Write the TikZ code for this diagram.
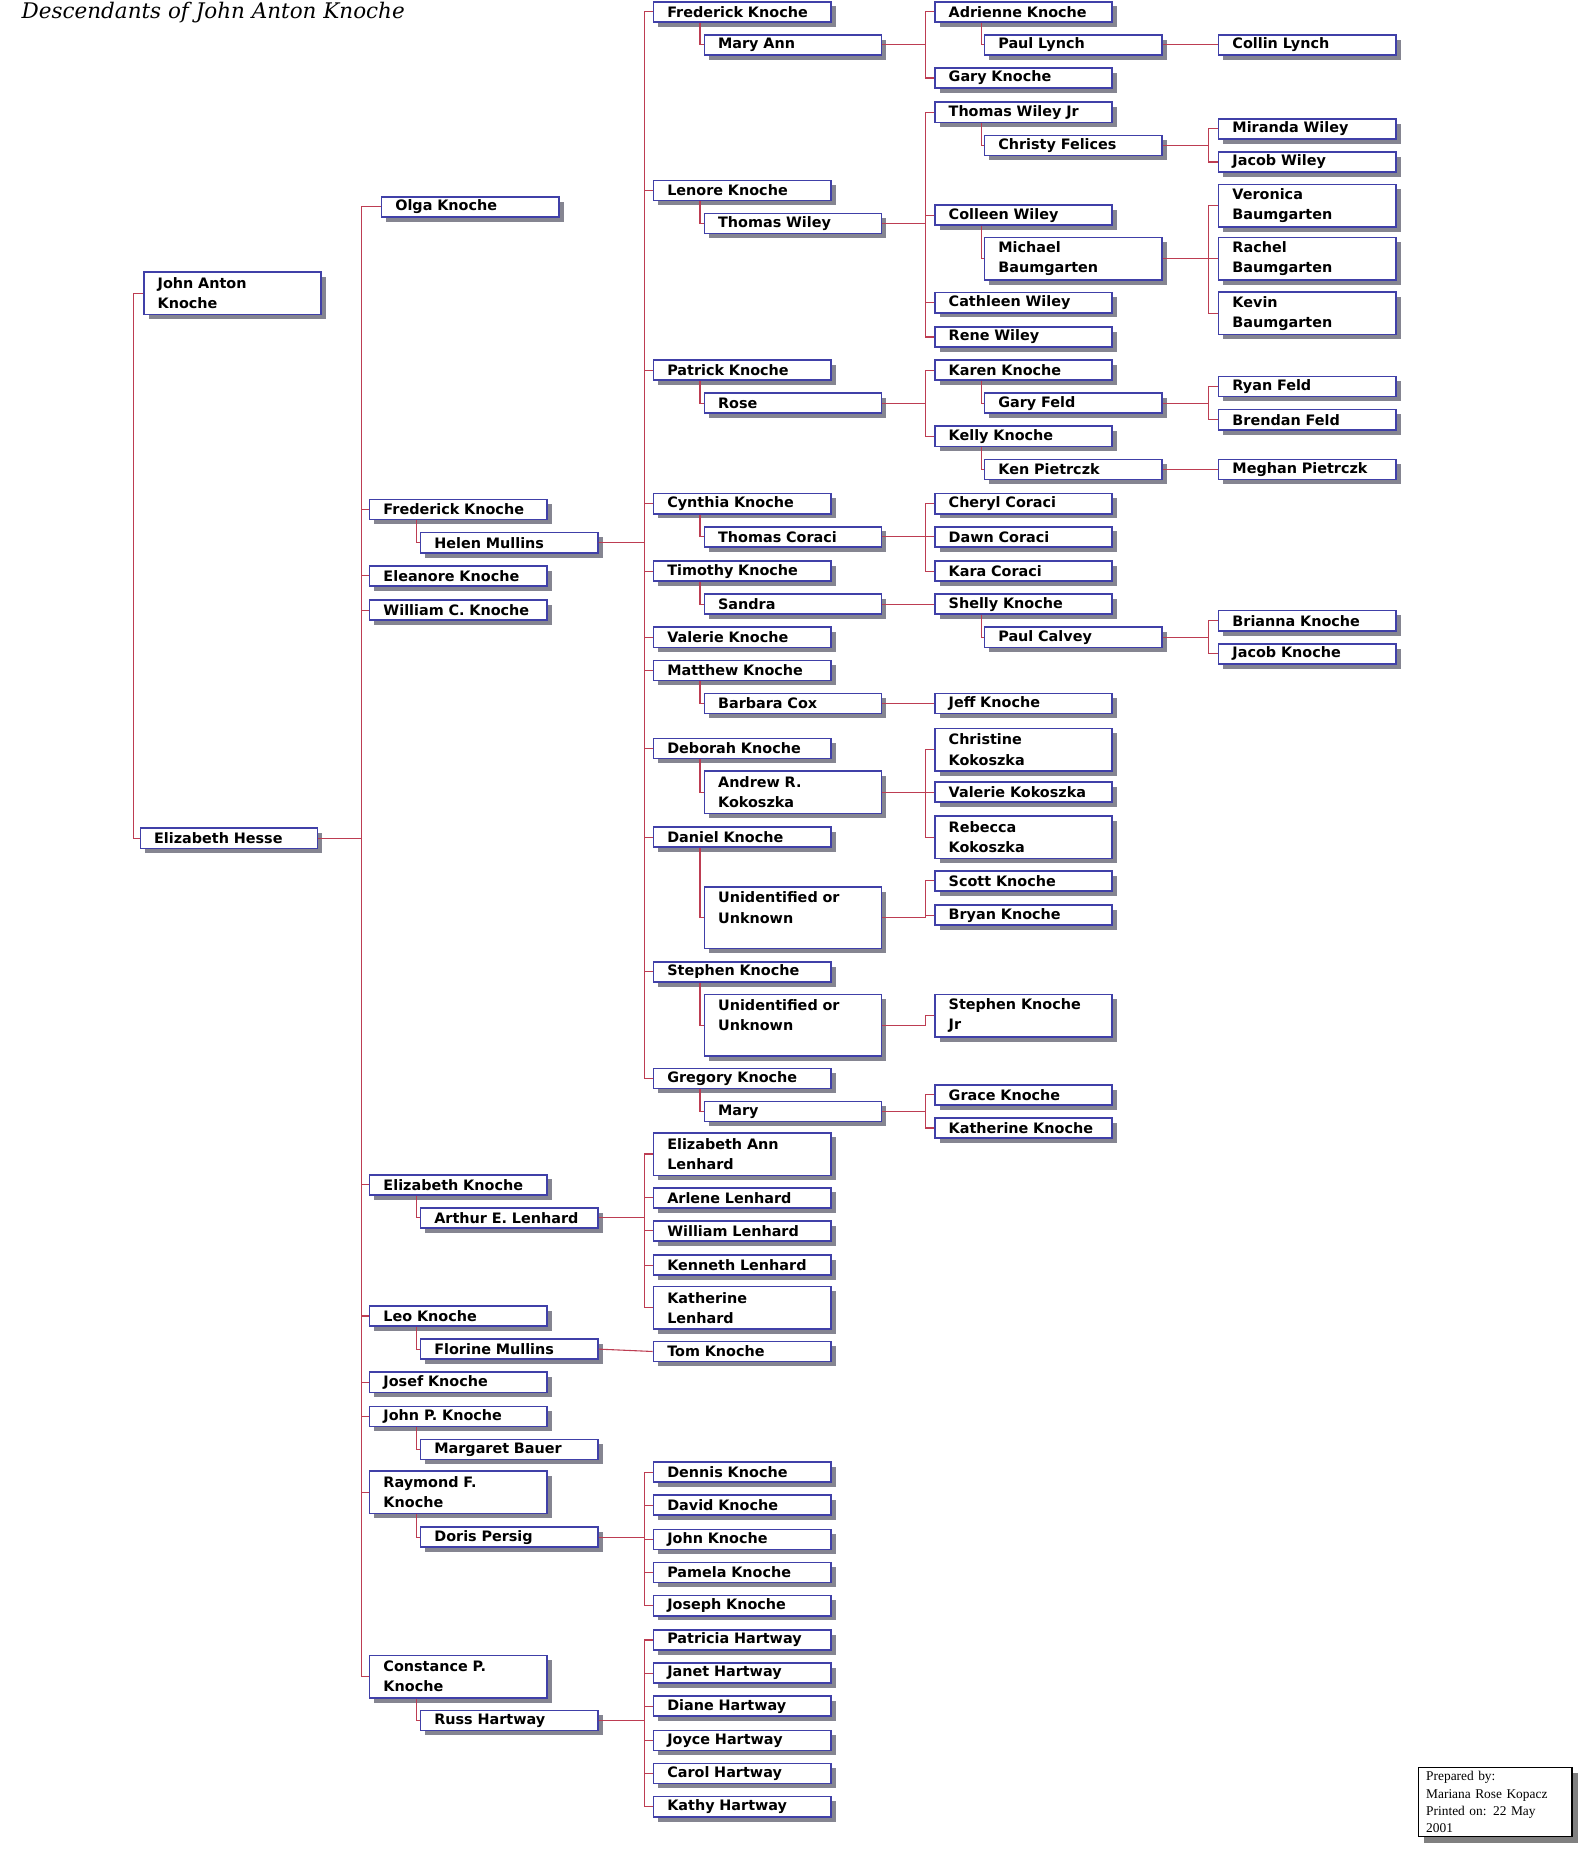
\documentclass[tikz,border=0pt]{standalone}
\usepackage{fontspec}
\usetikzlibrary{shadows}
\newfontfamily\boxfont{DejaVu Sans}
\newfontfamily\titlefont{DejaVu Serif}
\newfontfamily\notefont{Liberation Serif}
\definecolor{boxlinecolor}{rgb}{0.25,0.25,0.66}
\definecolor{famlinecolor}{rgb}{0.74,0.24,0.32}
\definecolor{shadowcolor}{rgb}{0.52,0.52,0.57}
\tikzset{
  pbox/.style={draw=boxlinecolor, line width=0.8pt, fill=white, anchor=west,
    drop shadow={shadow xshift=2.4pt, shadow yshift=-2.4pt, fill=shadowcolor, opacity=1},
    text width=76pt, inner xsep=7pt, inner ysep=0pt, minimum height=10.2pt, align=left,
    font=\boxfont\bfseries\fontsize{7.3}{10.2}\selectfont},
  pboxtwo/.style={pbox, minimum height=21.6pt},
  pboxthree/.style={pbox, minimum height=31.2pt},
  famline/.style={draw=famlinecolor, line width=0.55pt},
}
\begin{document}
\begin{tikzpicture}[x=0.6pt,y=-0.6pt]
\useasboundingbox (0,0) rectangle (1346,1568);
% title
\node[anchor=base west, inner sep=0pt, font=\titlefont\itshape\fontsize{10.9}{12}\selectfont] (title) at (18,16) {Descendants of John Anton Knoche};
% generation 1
\node[pboxtwo] (johnA) at (121,248) {John Anton\\Knoche};
\node[pbox] (elizH) at (118,709) {Elizabeth Hesse};
% generation 2
\node[pbox] (olga) at (322,175) {Olga Knoche};
\node[pbox] (fred) at (312,431) {Frederick Knoche};
\node[pbox] (helen) at (355,459) {Helen Mullins};
\node[pbox] (eleanore) at (312,487) {Eleanore Knoche};
\node[pbox] (william) at (312,516) {William C. Knoche};
\node[pbox] (elizK) at (312,1002) {Elizabeth Knoche};
\node[pbox] (arthur) at (355,1030) {Arthur E. Lenhard};
\node[pbox] (leo) at (312,1113) {Leo Knoche};
\node[pbox] (florine) at (355,1141) {Florine Mullins};
\node[pbox] (josef) at (312,1169) {Josef Knoche};
\node[pbox] (johnP) at (312,1198) {John P. Knoche};
\node[pbox] (margaret) at (355,1226) {Margaret Bauer};
\node[pboxtwo] (raymond) at (312,1262) {Raymond F.\\Knoche};
\node[pbox] (doris) at (355,1300) {Doris Persig};
\node[pboxtwo] (constance) at (312,1418) {Constance P.\\Knoche};
\node[pbox] (russ) at (355,1455) {Russ Hartway};
% generation 3
\node[pbox] (fredK) at (552,10) {Frederick Knoche};
\node[pbox] (maryAnn) at (595,38) {Mary Ann};
\node[pbox] (lenore) at (552,161) {Lenore Knoche};
\node[pbox] (thomasW) at (595,189) {Thomas Wiley};
\node[pbox] (patrick) at (552,313) {Patrick Knoche};
\node[pbox] (rose) at (595,341) {Rose};
\node[pbox] (cynthia) at (552,426) {Cynthia Knoche};
\node[pbox] (thomasC) at (595,454) {Thomas Coraci};
\node[pbox] (timothy) at (552,483) {Timothy Knoche};
\node[pbox] (sandra) at (595,511) {Sandra};
\node[pbox] (valerieK) at (552,539) {Valerie Knoche};
\node[pbox] (matthew) at (552,567) {Matthew Knoche};
\node[pbox] (barbara) at (595,595) {Barbara Cox};
\node[pbox] (deborah) at (552,633) {Deborah Knoche};
\node[pboxtwo] (andrew) at (595,670) {Andrew R.\\Kokoszka};
\node[pbox] (daniel) at (552,708) {Daniel Knoche};
\node[pboxthree] (unkA) at (595,776) {Unidentified or\\Unknown\\\mbox{}};
\node[pbox] (stephen) at (552,822) {Stephen Knoche};
\node[pboxthree] (unkB) at (595,867) {Unidentified or\\Unknown\\\mbox{}};
\node[pbox] (gregory) at (552,912) {Gregory Knoche};
\node[pbox] (mary) at (595,940) {Mary};
\node[pboxtwo] (elizAnn) at (552,976) {Elizabeth Ann\\Lenhard};
\node[pbox] (arlene) at (552,1013) {Arlene Lenhard};
\node[pbox] (williamL) at (552,1041) {William Lenhard};
\node[pbox] (kenneth) at (552,1070) {Kenneth Lenhard};
\node[pboxtwo] (katherineL) at (552,1106) {Katherine\\Lenhard};
\node[pbox] (tom) at (552,1143) {Tom Knoche};
\node[pbox] (dennis) at (552,1245) {Dennis Knoche};
\node[pbox] (david) at (552,1273) {David Knoche};
\node[pbox] (johnK) at (552,1302) {John Knoche};
\node[pbox] (pamela) at (552,1330) {Pamela Knoche};
\node[pbox] (joseph) at (552,1358) {Joseph Knoche};
\node[pbox] (patricia) at (552,1387) {Patricia Hartway};
\node[pbox] (janet) at (552,1415) {Janet Hartway};
\node[pbox] (diane) at (552,1443) {Diane Hartway};
\node[pbox] (joyce) at (552,1472) {Joyce Hartway};
\node[pbox] (carol) at (552,1500) {Carol Hartway};
\node[pbox] (kathy) at (552,1528) {Kathy Hartway};
% generation 4
\node[pbox] (adrienne) at (790,10) {Adrienne Knoche};
\node[pbox] (paulL) at (832,38) {Paul Lynch};
\node[pbox] (gary) at (790,66) {Gary Knoche};
\node[pbox] (thomasJr) at (790,95) {Thomas Wiley Jr};
\node[pbox] (christy) at (832,123) {Christy Felices};
\node[pbox] (colleen) at (790,182) {Colleen Wiley};
\node[pboxtwo] (michael) at (832,219) {Michael\\Baumgarten};
\node[pbox] (cathleen) at (790,256) {Cathleen Wiley};
\node[pbox] (rene) at (790,285) {Rene Wiley};
\node[pbox] (karen) at (790,313) {Karen Knoche};
\node[pbox] (garyF) at (832,341) {Gary Feld};
\node[pbox] (kelly) at (790,369) {Kelly Knoche};
\node[pbox] (ken) at (832,397) {Ken Pietrczk};
\node[pbox] (cheryl) at (790,426) {Cheryl Coraci};
\node[pbox] (dawn) at (790,454) {Dawn Coraci};
\node[pbox] (kara) at (790,483) {Kara Coraci};
\node[pbox] (shelly) at (790,511) {Shelly Knoche};
\node[pbox] (paulC) at (832,539) {Paul Calvey};
\node[pbox] (jeff) at (790,595) {Jeff Knoche};
\node[pboxtwo] (christine) at (790,634) {Christine\\Kokoszka};
\node[pbox] (valerieKo) at (790,670) {Valerie Kokoszka};
\node[pboxtwo] (rebecca) at (790,708) {Rebecca\\Kokoszka};
\node[pbox] (scott) at (790,745) {Scott Knoche};
\node[pbox] (bryan) at (790,774) {Bryan Knoche};
\node[pboxtwo] (stephenJr) at (790,859) {Stephen Knoche\\Jr};
\node[pbox] (grace) at (790,926) {Grace Knoche};
\node[pbox] (katherineK) at (790,954) {Katherine Knoche};
% generation 5
\node[pbox] (collin) at (1030,38) {Collin Lynch};
\node[pbox] (miranda) at (1030,109) {Miranda Wiley};
\node[pbox] (jacob) at (1030,137) {Jacob Wiley};
\node[pboxtwo] (veronica) at (1030,174) {Veronica\\Baumgarten};
\node[pboxtwo] (rachel) at (1030,219) {Rachel\\Baumgarten};
\node[pboxtwo] (kevin) at (1030,265) {Kevin\\Baumgarten};
\node[pbox] (ryan) at (1030,327) {Ryan Feld};
\node[pbox] (brendan) at (1030,355) {Brendan Feld};
\node[pbox] (meghan) at (1030,397) {Meghan Pietrczk};
\node[pbox] (brianna) at (1030,525) {Brianna Knoche};
\node[pbox] (jacobK) at (1030,553) {Jacob Knoche};
% note box
\node[draw=black, line width=0.6pt, fill=white, anchor=north west,
  drop shadow={shadow xshift=3pt, shadow yshift=-3pt, fill=gray, opacity=1},
  text width=70pt, inner xsep=4pt, inner ysep=0pt, minimum height=35.4pt, align=left,
  font=\notefont\fontsize{6.8}{8.7}\selectfont] (prep) at (1199,1494) {Prepared by:\\Mariana Rose Kopacz\\Printed on: 22 May\\2001};
% couples
\draw[famline] (johnA.west) -- ++(-8,0) |- (elizH.west);
\draw[famline] (fred.south west) ++(40,0) |- (helen.west);
\draw[famline] (elizK.south west) ++(40,0) |- (arthur.west);
\draw[famline] (leo.south west) ++(40,0) |- (florine.west);
\draw[famline] (johnP.south west) ++(40,0) |- (margaret.west);
\draw[famline] (raymond.south west) ++(40,0) |- (doris.west);
\draw[famline] (constance.south west) ++(40,0) |- (russ.west);
\draw[famline] (fredK.south west) ++(40,0) |- (maryAnn.west);
\draw[famline] (lenore.south west) ++(40,0) |- (thomasW.west);
\draw[famline] (patrick.south west) ++(40,0) |- (rose.west);
\draw[famline] (cynthia.south west) ++(40,0) |- (thomasC.west);
\draw[famline] (timothy.south west) ++(40,0) |- (sandra.west);
\draw[famline] (matthew.south west) ++(40,0) |- (barbara.west);
\draw[famline] (deborah.south west) ++(40,0) |- (andrew.west);
\draw[famline] (daniel.south west) ++(40,0) |- (unkA.west);
\draw[famline] (stephen.south west) ++(40,0) |- (unkB.west);
\draw[famline] (gregory.south west) ++(40,0) |- (mary.west);
\draw[famline] (adrienne.south west) ++(40,0) |- (paulL.west);
\draw[famline] (thomasJr.south west) ++(40,0) |- (christy.west);
\draw[famline] (colleen.south west) ++(40,0) |- (michael.west);
\draw[famline] (karen.south west) ++(40,0) |- (garyF.west);
\draw[famline] (kelly.south west) ++(40,0) |- (ken.west);
\draw[famline] (shelly.south west) ++(40,0) |- (paulC.west);
% children of John Anton Knoche and Elizabeth Hesse
\draw[famline] (elizH.east) -| ([xshift=-9.6pt]olga.west) -- (olga.west);
\draw[famline] (elizH.east) -| ([xshift=-3.6pt]fred.west) -- (fred.west);
\draw[famline] (elizH.east) -| ([xshift=-3.6pt]eleanore.west) -- (eleanore.west);
\draw[famline] (elizH.east) -| ([xshift=-3.6pt]william.west) -- (william.west);
\draw[famline] (elizH.east) -| ([xshift=-3.6pt]elizK.west) -- (elizK.west);
\draw[famline] (elizH.east) -| ([xshift=-3.6pt]leo.west) -- (leo.west);
\draw[famline] (elizH.east) -| ([xshift=-3.6pt]josef.west) -- (josef.west);
\draw[famline] (elizH.east) -| ([xshift=-3.6pt]johnP.west) -- (johnP.west);
\draw[famline] (elizH.east) -| ([xshift=-3.6pt]raymond.west) -- (raymond.west);
\draw[famline] (elizH.east) -| ([xshift=-3.6pt]constance.west) -- (constance.west);
% children in generation 3
\draw[famline] (helen.east) -| ([xshift=-4.2pt]fredK.west) -- (fredK.west);
\draw[famline] (helen.east) -| ([xshift=-4.2pt]lenore.west) -- (lenore.west);
\draw[famline] (helen.east) -| ([xshift=-4.2pt]patrick.west) -- (patrick.west);
\draw[famline] (helen.east) -| ([xshift=-4.2pt]cynthia.west) -- (cynthia.west);
\draw[famline] (helen.east) -| ([xshift=-4.2pt]timothy.west) -- (timothy.west);
\draw[famline] (helen.east) -| ([xshift=-4.2pt]valerieK.west) -- (valerieK.west);
\draw[famline] (helen.east) -| ([xshift=-4.2pt]matthew.west) -- (matthew.west);
\draw[famline] (helen.east) -| ([xshift=-4.2pt]deborah.west) -- (deborah.west);
\draw[famline] (helen.east) -| ([xshift=-4.2pt]daniel.west) -- (daniel.west);
\draw[famline] (helen.east) -| ([xshift=-4.2pt]stephen.west) -- (stephen.west);
\draw[famline] (helen.east) -| ([xshift=-4.2pt]gregory.west) -- (gregory.west);
\draw[famline] (arthur.east) -| ([xshift=-4.2pt]elizAnn.west) -- (elizAnn.west);
\draw[famline] (arthur.east) -| ([xshift=-4.2pt]arlene.west) -- (arlene.west);
\draw[famline] (arthur.east) -| ([xshift=-4.2pt]williamL.west) -- (williamL.west);
\draw[famline] (arthur.east) -| ([xshift=-4.2pt]kenneth.west) -- (kenneth.west);
\draw[famline] (arthur.east) -| ([xshift=-4.2pt]katherineL.west) -- (katherineL.west);
\draw[famline] (florine.east) -- (tom.west);
\draw[famline] (doris.east) -| ([xshift=-4.2pt]dennis.west) -- (dennis.west);
\draw[famline] (doris.east) -| ([xshift=-4.2pt]david.west) -- (david.west);
\draw[famline] (doris.east) -| ([xshift=-4.2pt]johnK.west) -- (johnK.west);
\draw[famline] (doris.east) -| ([xshift=-4.2pt]pamela.west) -- (pamela.west);
\draw[famline] (doris.east) -| ([xshift=-4.2pt]joseph.west) -- (joseph.west);
\draw[famline] (russ.east) -| ([xshift=-4.2pt]patricia.west) -- (patricia.west);
\draw[famline] (russ.east) -| ([xshift=-4.2pt]janet.west) -- (janet.west);
\draw[famline] (russ.east) -| ([xshift=-4.2pt]diane.west) -- (diane.west);
\draw[famline] (russ.east) -| ([xshift=-4.2pt]joyce.west) -- (joyce.west);
\draw[famline] (russ.east) -| ([xshift=-4.2pt]carol.west) -- (carol.west);
\draw[famline] (russ.east) -| ([xshift=-4.2pt]kathy.west) -- (kathy.west);
% children in generation 4
\draw[famline] (maryAnn.east) -| ([xshift=-4.2pt]adrienne.west) -- (adrienne.west);
\draw[famline] (maryAnn.east) -| ([xshift=-4.2pt]gary.west) -- (gary.west);
\draw[famline] (thomasW.east) -| ([xshift=-4.2pt]thomasJr.west) -- (thomasJr.west);
\draw[famline] (thomasW.east) -| ([xshift=-4.2pt]colleen.west) -- (colleen.west);
\draw[famline] (thomasW.east) -| ([xshift=-4.2pt]cathleen.west) -- (cathleen.west);
\draw[famline] (thomasW.east) -| ([xshift=-4.2pt]rene.west) -- (rene.west);
\draw[famline] (rose.east) -| ([xshift=-4.2pt]karen.west) -- (karen.west);
\draw[famline] (rose.east) -| ([xshift=-4.2pt]kelly.west) -- (kelly.west);
\draw[famline] (thomasC.east) -| ([xshift=-4.2pt]cheryl.west) -- (cheryl.west);
\draw[famline] (thomasC.east) -| ([xshift=-4.2pt]dawn.west) -- (dawn.west);
\draw[famline] (thomasC.east) -| ([xshift=-4.2pt]kara.west) -- (kara.west);
\draw[famline] (sandra.east) -- (shelly.west);
\draw[famline] (barbara.east) -- (jeff.west);
\draw[famline] (andrew.east) -| ([xshift=-4.2pt]christine.west) -- (christine.west);
\draw[famline] (andrew.east) -| ([xshift=-4.2pt]valerieKo.west) -- (valerieKo.west);
\draw[famline] (andrew.east) -| ([xshift=-4.2pt]rebecca.west) -- (rebecca.west);
\draw[famline] (unkA.east) -| ([xshift=-4.2pt]scott.west) -- (scott.west);
\draw[famline] (unkA.east) -| ([xshift=-4.2pt]bryan.west) -- (bryan.west);
\draw[famline] (unkB.east) -| ([xshift=-4.2pt]stephenJr.west) -- (stephenJr.west);
\draw[famline] (mary.east) -| ([xshift=-4.2pt]grace.west) -- (grace.west);
\draw[famline] (mary.east) -| ([xshift=-4.2pt]katherineK.west) -- (katherineK.west);
% children in generation 5
\draw[famline] (paulL.east) -- (collin.west);
\draw[famline] (christy.east) -| ([xshift=-4.8pt]miranda.west) -- (miranda.west);
\draw[famline] (christy.east) -| ([xshift=-4.8pt]jacob.west) -- (jacob.west);
\draw[famline] (michael.east) -| ([xshift=-4.8pt]veronica.west) -- (veronica.west);
\draw[famline] (michael.east) -| ([xshift=-4.8pt]rachel.west) -- (rachel.west);
\draw[famline] (michael.east) -| ([xshift=-4.8pt]kevin.west) -- (kevin.west);
\draw[famline] (garyF.east) -| ([xshift=-4.8pt]ryan.west) -- (ryan.west);
\draw[famline] (garyF.east) -| ([xshift=-4.8pt]brendan.west) -- (brendan.west);
\draw[famline] (ken.east) -- (meghan.west);
\draw[famline] (paulC.east) -| ([xshift=-4.8pt]brianna.west) -- (brianna.west);
\draw[famline] (paulC.east) -| ([xshift=-4.8pt]jacobK.west) -- (jacobK.west);
\end{tikzpicture}
\end{document}
